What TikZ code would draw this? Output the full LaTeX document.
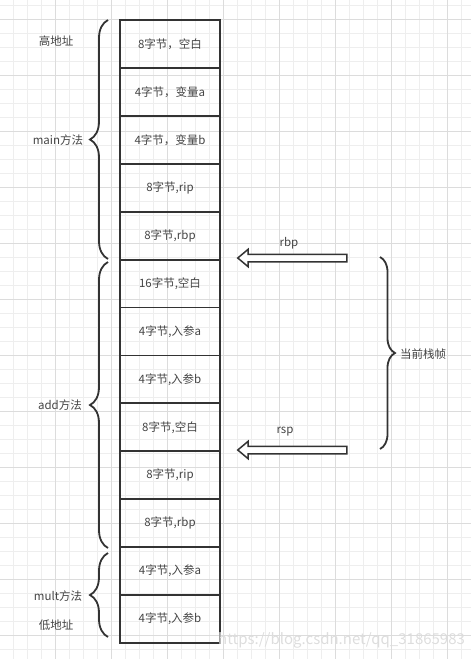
\documentclass[tikz,border=0pt]{standalone}
\usepackage{fontspec}
\setmainfont{Noto Sans CJK SC}
\usepackage{tikz}
\usetikzlibrary{decorations.pathreplacing,shapes.arrows}

\definecolor{ink}{HTML}{333333}
\definecolor{txt}{HTML}{444444}
\definecolor{gridminor}{HTML}{EEEEEE}
\definecolor{gridmajor}{HTML}{DCDCDC}
\definecolor{wmark}{HTML}{DDDDDD}

\begin{document}
\begin{tikzpicture}[x=1pt,y=-1pt,
    slot/.style={draw=ink, line width=1.8pt, rectangle, minimum width=100pt,
        minimum height=47.92pt, inner sep=0pt, outer sep=0pt, text=txt,
        font=\fontsize{11.5}{13}\selectfont},
    lbl/.style={text=txt, inner sep=0pt, font=\fontsize{11.5}{13}\selectfont},
    brc/.style={draw=ink, line width=1.8pt,
        decorate, decoration={brace, amplitude=#1}},
    ptr/.style={draw=ink, line width=1.5pt, fill=white, single arrow,
        shape border rotate=180, minimum height=109pt, inner sep=3pt,
        single arrow head extend=5pt, single arrow tip angle=80}]
    \useasboundingbox (0,0) rectangle (471,659);
    % 背景网格
    \foreach \gx in {13.3,27.3,...,470} \draw[gridminor, line width=0.8pt] (\gx,0) -- (\gx,659);
    \foreach \gy in {5.3,19.3,...,658} \draw[gridminor, line width=0.8pt] (0,\gy) -- (471,\gy);
    \foreach \gx in {55.3,111.3,...,470} \draw[gridmajor, line width=0.8pt] (\gx,0) -- (\gx,659);
    \foreach \gy in {19.3,75.3,...,658} \draw[gridmajor, line width=0.8pt] (0,\gy) -- (471,\gy);
    % 栈
    \node[slot] (s1) at (170,43.96) {8字节，空白};
    \node[slot] (s2) at (170,91.88) {4字节，变量a};
    \node[slot] (s3) at (170,139.81) {4字节，变量b};
    \node[slot] (s4) at (170,187.73) {8字节,rip};
    \node[slot] (s5) at (170,235.65) {8字节,rbp};
    \node[slot] (s6) at (170,283.58) {16字节,空白};
    \node[slot] (s7) at (170,331.50) {4字节,入参a};
    \node[slot] (s8) at (170,379.42) {4字节,入参b};
    \node[slot] (s9) at (170,427.35) {8字节,空白};
    \node[slot] (s10) at (170,475.27) {8字节,rip};
    \node[slot] (s11) at (170,523.19) {8字节,rbp};
    \node[slot] (s12) at (170,571.12) {4字节,入参a};
    \node[slot] (s13) at (170,619.04) {4字节,入参b};
    % 左侧括号
    \draw[brc=18] (108,259) -- (108,20);
    \draw[brc=18] (108,548) -- (108,262);
    \draw[brc=18] (108,637) -- (108,553);
    % 右侧括号
    \draw[brc=15] (380,257) -- (380,449);
    % 指针
    \node[ptr] (rbpptr) at (294.5,258) {};
    \node[ptr] (rspptr) at (294.5,450) {};
    % 标签
    \node[lbl] (high) at (56,41) {高地址};
    \node[lbl] (mainlbl) at (58,140) {main方法};
    \node[lbl] (addlbl) at (60,405) {add方法};
    \node[lbl] (multlbl) at (58,596) {mult方法};
    \node[lbl] (low) at (56,625) {低地址};
    \node[lbl] (rbplbl) at (289,243) {rbp};
    \node[lbl] (rsplbl) at (285,432) {rsp};
    \node[lbl, anchor=west] (frame) at (400,354) {当前栈帧};
    % 水印
    \node[text=wmark, inner sep=0pt, anchor=west, font=\fontsize{15}{17}\selectfont]
        (wm) at (218,640) {https://blog.csdn.net/qq\_31865983};
\end{tikzpicture}
\end{document}
